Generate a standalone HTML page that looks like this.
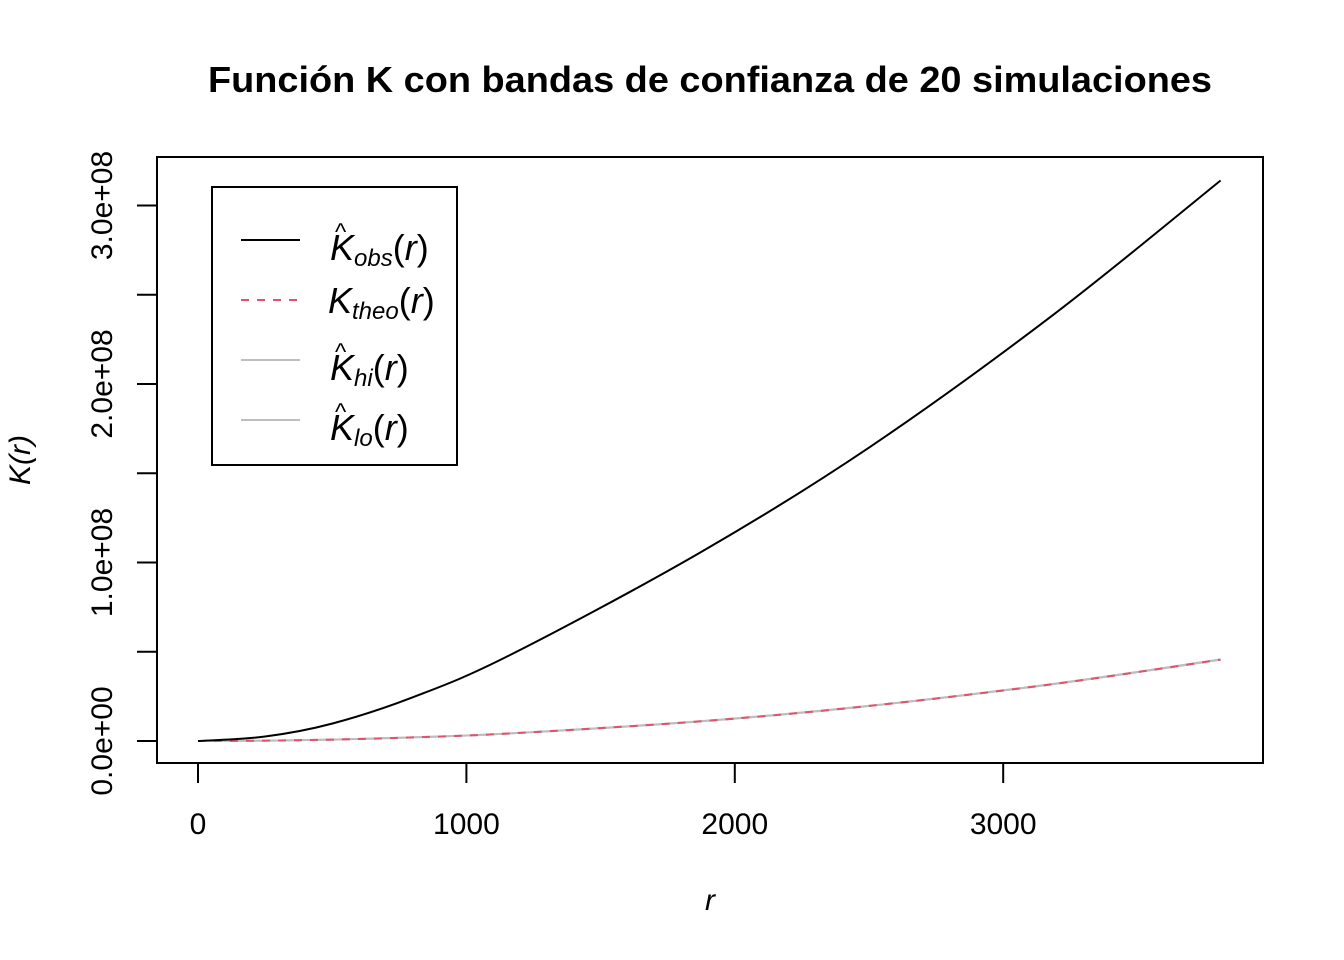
<!DOCTYPE html>
<html><head><meta charset="utf-8"><style>
html,body{margin:0;padding:0;background:#fff;}
svg{display:block;font-family:"Liberation Sans",sans-serif;}
</style></head><body>
<svg id="chart" width="1344" height="960" viewBox="0 0 1344 960">
<text x="710" y="92" text-anchor="middle" font-size="36" font-weight="bold" textLength="1004" lengthAdjust="spacingAndGlyphs">Función K con bandas de confianza de 20 simulaciones</text>
<rect x="157" y="157" width="1106" height="606" fill="none" stroke="#000" stroke-width="2"/>
<g id="xaxis"></g>
<g id="yaxis"></g>
<text x="710" y="910" text-anchor="middle" font-size="30" font-style="italic">r</text>
<text transform="translate(30,460) rotate(-90)" text-anchor="middle" font-size="30" font-style="italic">K(r)</text>
<g id="series"></g>
<g>
<rect x="212" y="187" width="245" height="278" fill="#fff" stroke="#000" stroke-width="2"/>
<line x1="241" y1="240" x2="300" y2="240" stroke="#000" stroke-width="2"/>
<line x1="241" y1="300" x2="300" y2="300" stroke="#DF536B" stroke-width="2" stroke-dasharray="8,8"/>
<line x1="241" y1="360" x2="300" y2="360" stroke="#bebebe" stroke-width="2"/>
<line x1="241" y1="420" x2="300" y2="420" stroke="#bebebe" stroke-width="2"/>
<g font-style="italic" font-size="36">
<text x="330" y="260">K<tspan font-size="24" dy="6">obs</tspan><tspan font-style="normal" dy="-6">(</tspan>r<tspan font-style="normal">)</tspan></text>
<text x="335" y="240" font-size="24" font-style="normal">^</text>
<text x="328" y="313">K<tspan font-size="24" dy="6">theo</tspan><tspan font-style="normal" dy="-6">(</tspan>r<tspan font-style="normal">)</tspan></text>
<text x="330" y="380">K<tspan font-size="24" dy="6">hi</tspan><tspan font-style="normal" dy="-6">(</tspan>r<tspan font-style="normal">)</tspan></text>
<text x="335" y="360" font-size="24" font-style="normal">^</text>
<text x="330" y="440">K<tspan font-size="24" dy="6">lo</tspan><tspan font-style="normal" dy="-6">(</tspan>r<tspan font-style="normal">)</tspan></text>
<text x="335" y="420" font-size="24" font-style="normal">^</text>
</g></g>
</svg>
<script>
const rValues=[0,250,501,800,1159,1868,2501,3186,3810];
const kObs=[0,0.025e8,0.098e8,0.245e8,0.479e8,1.053e8,1.645e8,2.387e8,3.14e8];
const kTheo=[0,0.0020e8,0.0079e8,0.0201e8,0.0422e8,0.1096e8,0.1965e8,0.3189e8,0.456e8];
const kHi=[0,0.0020e8,0.0080e8,0.0203e8,0.0425e8,0.1101e8,0.1972e8,0.3198e8,0.457e8];
const kLo=[0,0.0019e8,0.0078e8,0.0199e8,0.0419e8,0.1091e8,0.1958e8,0.3180e8,0.455e8];
const xTicks=[0,1000,2000,3000];
const yTicks=[0,0.5e8,1e8,1.5e8,2e8,2.5e8,3e8];
const yLabels=["0.0e+00","1.0e+08","2.0e+08","3.0e+08"];
const NS="http://www.w3.org/2000/svg";
const xs=v=>198+v*0.2684;
const ys=v=>741-v*178.5e-8;
function mk(tag,attrs,parent){const e=document.createElementNS(NS,tag);for(const k in attrs)e.setAttribute(k,attrs[k]);parent.appendChild(e);return e;}
const xa=document.getElementById('xaxis'),ya=document.getElementById('yaxis'),sg=document.getElementById('series');
mk('line',{x1:xs(xTicks[0]),x2:xs(xTicks[xTicks.length-1]),y1:763,y2:763,stroke:'#000','stroke-width':2},xa);
xTicks.forEach(t=>{
 const l=mk('line',{x1:xs(t),x2:xs(t),y1:763,y2:783,stroke:'#000','stroke-width':2},xa);
 
 
 const tx=mk('text',{x:xs(t),y:834,'text-anchor':'middle','font-size':30},xa);tx.textContent=t;
 
 
});
mk('line',{x1:157,x2:157,y1:ys(yTicks[0]),y2:ys(yTicks[yTicks.length-1]),stroke:'#000','stroke-width':2},ya);
yTicks.forEach((t,i)=>{
 const l=mk('line',{x1:137,x2:157,y1:ys(t),y2:ys(t),stroke:'#000','stroke-width':2},ya);
 
 
 if(i%2===0){
  const tx=mk('text',{transform:`translate(112,${ys(t)}) rotate(-90)`,'text-anchor':'middle','font-size':30},ya);tx.textContent=yLabels[i/2];
  
  
 }
});
function line(vals,attrs,name){
 const pts=vals.map((v,i)=>[xs(rValues[i]),ys(v)]);
 let d='M'+pts[0][0].toFixed(1)+','+pts[0][1].toFixed(1);
 for(let i=0;i<pts.length-1;i++){
  const p0=pts[Math.max(0,i-1)],p1=pts[i],p2=pts[i+1],p3=pts[Math.min(pts.length-1,i+2)];
  const c1=[p1[0]+(p2[0]-p0[0])/6,p1[1]+(p2[1]-p0[1])/6],c2=[p2[0]-(p3[0]-p1[0])/6,p2[1]-(p3[1]-p1[1])/6];
  d+=` C${c1[0].toFixed(1)},${c1[1].toFixed(1)} ${c2[0].toFixed(1)},${c2[1].toFixed(1)} ${p2[0].toFixed(1)},${p2[1].toFixed(1)}`;
 }
 const p=mk('path',Object.assign({d:d,fill:'none','stroke-width':2},attrs),sg);
 
 
}
line(kHi,{stroke:'#bebebe'},'k-hi-line');
line(kLo,{stroke:'#bebebe'},'k-lo-line');
line(kTheo,{stroke:'#DF536B','stroke-dasharray':'8,8'},'k-theo-line');
line(kObs,{stroke:'#000'},'k-obs-line');
</script>
</body></html>
